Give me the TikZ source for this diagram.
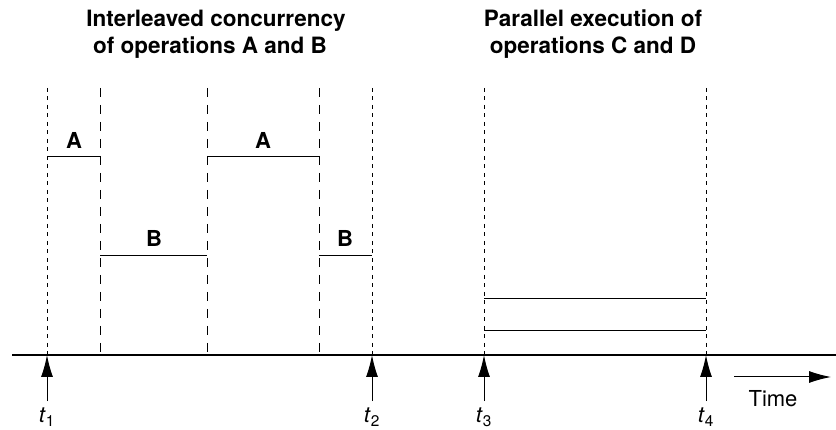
\documentclass[tikz,border=0pt]{standalone}
\usepackage{fontspec}
\setmainfont{TeX Gyre Heros}
\usetikzlibrary{arrows.meta}

\begin{document}
\begin{tikzpicture}[x=1pt, y=-1pt, >={Latex[length=22pt,width=12pt]}]

    \tikzset{
        fine/.style={dash pattern=on 4pt off 4.5pt, line width=0.8pt},
        coarse/.style={dash pattern=on 9pt off 8pt, line width=0.9pt},
        op/.style={line width=1pt},
        oplabel/.style={font=\fontsize{22}{26}\selectfont\bfseries, anchor=base},
        title/.style={font=\fontsize{22.5}{27}\selectfont\bfseries, anchor=base},
        tlabel/.style={font=\fontsize{22}{26}\selectfont, anchor=base, inner sep=1pt}
    }
    \useasboundingbox (0,0) rectangle (836,430);

    % Titles
    \node[title] (ttlAB1) at (216,27) {Interleaved concurrency};
    \node[title] (ttlAB2) at (210,54) {of operations A and B};
    \node[title] (ttlCD1) at (593,27) {Parallel execution of};
    \node[title] (ttlCD2) at (593,54) {operations C and D};

    % Time axis
    \coordinate (axL) at (12,355);
    \coordinate (axR) at (836,355);
    \draw[line width=1.2pt] (axL) -- (axR);

    % Switch points between A and B
    \foreach \x in {100,207,319}
        \draw[coarse] (\x,88) -- (\x,355);

    % Marked instants t1 ... t4
    \foreach \n/\x in {1/47,2/372,3/484,4/706} {
        \coordinate (t\n) at (\x,355);
        \draw[fine] (\x,88) -- (t\n);
        \node[tlabel] (lt\n) at (\x,423) {\textit{t}\textsubscript{\n}};
        \draw[->, line width=1pt, shorten <=6pt] (lt\n.north) -- (t\n);
    }

    % Interleaved operations
    \draw[op] (t1 |- 0,157) -- (100,157);
    \draw[op] (207,157) -- (319,157);
    \draw[op] (100,256) -- (207,256);
    \draw[op] (319,256) -- (t2 |- 0,256);
    \node[oplabel] (opA1) at (74,149) {A};
    \node[oplabel] (opA2) at (263,149) {A};
    \node[oplabel] (opB1) at (154,247) {B};
    \node[oplabel] (opB2) at (345,247) {B};

    % Parallel operations
    \draw[op] (t3 |- 0,299) -- (t4 |- 0,299);
    \draw[op] (t3 |- 0,331) -- (t4 |- 0,331);

    % Time direction
    \coordinate (tmA) at (734,377);
    \coordinate (tmB) at (831,377);
    \draw[->, line width=1pt] (tmA) -- (tmB);
    \node[tlabel] (time) at (773,407) {Time};

\end{tikzpicture}
\end{document}
